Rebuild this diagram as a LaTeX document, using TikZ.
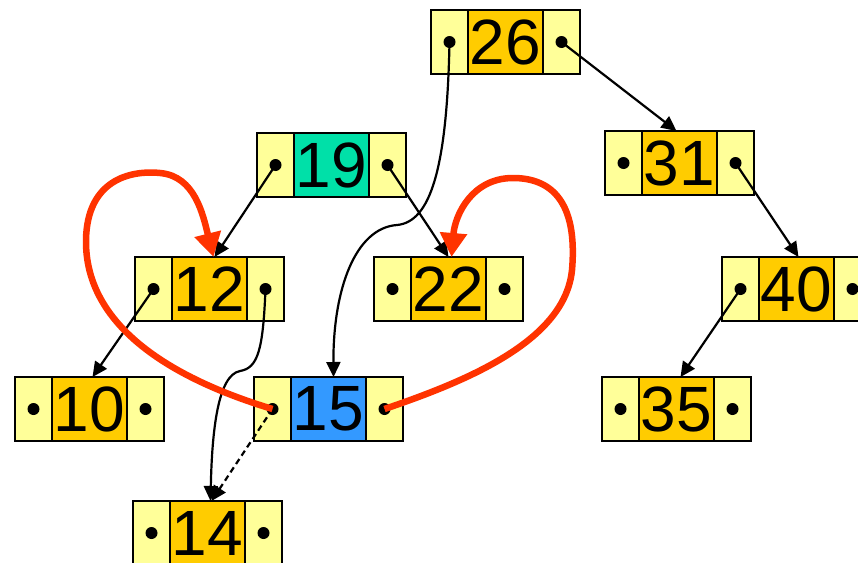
\documentclass[tikz,border=0pt]{standalone}
\usepackage{fontspec}
\setmainfont{Liberation Sans}
\usetikzlibrary{arrows.meta}

\definecolor{cellyellow}{HTML}{FFFF99}
\definecolor{keyorange}{HTML}{FFCC00}
\definecolor{keyteal}{HTML}{00E0A8}
\definecolor{keyblue}{HTML}{3399FF}
\definecolor{moveRed}{HTML}{FF3300}

\tikzset{
  cell/.style={draw=black, line width=1.6pt, inner sep=0pt, outer sep=0pt,
               minimum height=64pt, anchor=north west},
  ptrcell/.style={cell, fill=cellyellow, minimum width=37pt},
  keycell/.style={cell, minimum width=75pt, font=\fontsize{64}{64}\selectfont},
  link/.style={line width=2.2pt, -{Triangle[length=15pt,width=14pt]}},
  relink/.style={line width=6.5pt, draw=moveRed, line cap=butt,
                 -{Triangle[length=24pt,width=26pt]}},
}

% one tree node: left pointer cell, key cell, right pointer cell
% #1 name, #2 #3 top-left corner, #4 key, #5 key colour
\newcommand\bstrec[5]{%
  \node[ptrcell] (#1l) at (#2,#3) {};
  \node[keycell, fill=#5] (#1) at (#1l.north east) {#4};
  \node[ptrcell] (#1r) at (#1.north east) {};
  \fill (#1l.center) circle (6pt);
  \fill (#1r.center) circle (6pt);
}

\begin{document}
\begin{tikzpicture}[x=1pt, y=-1pt]
  \useasboundingbox (0,0) rectangle (858,562);
  \clip (0,0) rectangle (858,562);

  \bstrec{n26}{431}{10}{26}{keyorange}
  \bstrec{n19}{257}{133}{19}{keyteal}
  \bstrec{n31}{605}{131}{31}{keyorange}
  \bstrec{n12}{135}{257}{12}{keyorange}
  \bstrec{n22}{374}{257}{22}{keyorange}
  \bstrec{n40}{722}{257}{40}{keyorange}
  \bstrec{n10}{15}{377}{10}{keyorange}
  \bstrec{n15}{254}{377}{15}{keyblue}
  \bstrec{n35}{602}{377}{35}{keyorange}
  \bstrec{n14}{133}{501}{14}{keyorange}

  % child pointers
  \draw[link] (n26r.center) -- ([xshift=-3pt]n31.north);
  \draw[link] (n26l.center) .. controls (447,170) and (430,222) .. (397,225)
                            .. controls (355,228) and (333,290) .. ([xshift=5pt]n15.north);
  \draw[link] (n19l.center) -- ([xshift=5pt]n12.north);
  \draw[link] (n19r.center) -- (n22.north);
  \draw[link] (n12l.center) -- ([xshift=3pt]n10.north);
  \draw[link] (n12r.center) .. controls (263,350) and (258,368) .. (240,371)
                            .. controls (218,375) and (212,430) .. ([xshift=3pt]n14.north);
  \draw[link, dash pattern=on 6pt off 4pt] (n15l.center) -- ([xshift=4pt]n14.north);
  \draw[link] (n31r.center) -- ([xshift=2pt]n40.north);
  \draw[link] (n40l.center) -- ([xshift=4pt]n35.north);

  % pointers of the removed node moved onto 12 and 22
  \draw[relink] (n15l.center) .. controls (160,375) and (85,320) .. (86,240)
                              .. controls (87,180) and (130,170) .. (160,173)
                              .. controls (195,176) and (203,215) .. ([xshift=4pt]n12.north);
  \draw[relink] (n15r.center) .. controls (470,380) and (565,340) .. (572,270)
                              .. controls (578,200) and (550,178) .. (513,178)
                              .. controls (472,178) and (455,215) .. ([xshift=3pt]n22.north);
\end{tikzpicture}
\end{document}
